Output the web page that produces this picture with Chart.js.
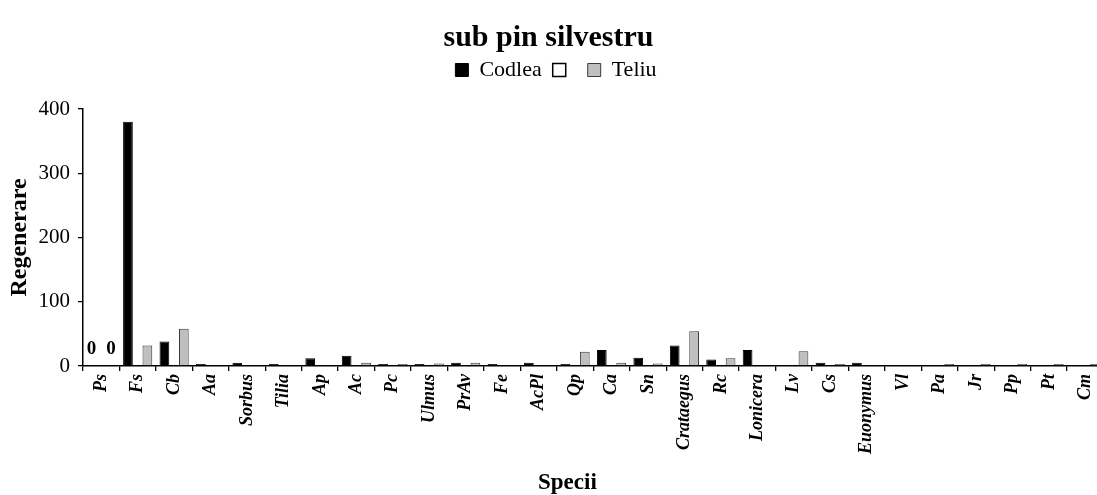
<!DOCTYPE html>
<html>
<head>
<meta charset="utf-8">
<script src="https://cdn.jsdelivr.net/npm/chart.js@4/dist/chart.umd.min.js"></script>
<style>
  html, body { margin: 0; padding: 0; background: #fff; overflow: hidden; }
  #wrap { width: 1097px; height: 495px; overflow: hidden; }
  #box { width: 1110px; height: 495px; }
</style>
</head>
<body>
<div id="wrap"><div id="box"><canvas id="c"></canvas></div></div>
<script>
// Species codes along the x axis
const species = ['Ps','Fs','Cb','Aa','Sorbus','Tilia','Ap','Ac','Pc','Ulmus','PrAv','Fe','AcPl','Qp','Ca','Sn','Crataegus','Rc','Lonicera','Lv','Cs','Euonymus','Vl','Pa','Jr','Pp','Pt','Cm'];

// Regeneration counts per site
const codlea = [0,380,38,3,5,3,12,16,3,3,5,3,5,3,25,13,32,10,25,0,5,5,0,0,0,0,0,0];
const unnamed = [null,null,null,null,null,null,null,null,null,null,null,null,null,null,null,null,null,null,null,null,null,null,null,null,null,null,null,null];
const teliu  = [0,32,58,0,0,0,0,5,3,4,5,0,0,22,5,4,54,12,0,23,3,0,0,3,3,3,3,3];

// Y axis ticks
const yTicks = [0,100,200,300,400];

// Categories whose values are written above the bars
const labelledSpecies = ['Ps'];

const serif = "'Liberation Serif', 'Times New Roman', serif";
const nbsp = n => '\u00A0'.repeat(n);

// Writes the value above the bars of the listed categories
const valueLabels = {
  id: 'valueLabels',
  afterDatasetsDraw(chart) {
    const ctx = chart.ctx;
    const yScale = chart.scales.y;
    ctx.save();
    ctx.font = 'bold 19px ' + serif;
    ctx.fillStyle = '#000';
    ctx.textAlign = 'center';
    ctx.textBaseline = 'alphabetic';
    [0, 2].forEach(di => {
      const meta = chart.getDatasetMeta(di);
      labelledSpecies.forEach(name => {
        const i = species.indexOf(name);
        const v = chart.data.datasets[di].data[i];
        const el = meta.data[i];
        if (el == null || v == null) return;
        ctx.fillText(String(v), el.x, yScale.getPixelForValue(v) - 12);
      });
    });
    ctx.restore();
  }
};

// Extra room between the legend row and the plot
const legendGap = {
  id: 'legendGap',
  beforeLayout(chart) {
    const lg = chart.legend;
    if (!lg || lg._gapPatched) return;
    const fit = lg.fit;
    lg.fit = function () { fit.call(this); this.height += 18; };
    lg._gapPatched = true;
  }
};

new Chart(document.getElementById('c'), {
  type: 'bar',
  data: {
    labels: species,
    datasets: [
      { label: 'Codlea', data: codlea, backgroundColor: '#000', borderColor: '#000', borderWidth: 1 },
      { label: '', data: unnamed, backgroundColor: '#fff', borderColor: '#000', borderWidth: 1.5 },
      { label: 'Teliu', data: teliu, backgroundColor: '#bfbfbf', borderColor: '#3a3a3a', borderWidth: 1 }
    ]
  },
  options: {
    responsive: true,
    maintainAspectRatio: false,
    animation: false,
    devicePixelRatio: 1,
    layout: { padding: { left: 5, right: 3, top: 0, bottom: 0 } },
    datasets: { bar: { categoryPercentage: 0.8, barPercentage: 1.0 } },
    plugins: {
      title: {
        display: true,
        text: 'sub pin silvestru' + nbsp(2),
        color: '#000',
        font: { family: serif, size: 30, weight: 'bold' },
        padding: { top: 20, bottom: -8 }
      },
      legend: {
        display: true,
        labels: {
          color: '#000',
          font: { family: serif, size: 22 },
          boxWidth: 13,
          boxHeight: 13,
          padding: 11
        }
      },
      tooltip: { enabled: false }
    },
    scales: {
      x: {
        afterFit(scale) { scale.height = 129; },
        grid: { display: true, offset: true, drawOnChartArea: false, tickLength: 5, color: '#000', lineWidth: 1.3 },
        border: { display: true, color: '#000', width: 1.5 },
        ticks: {
          color: '#000',
          minRotation: 90,
          maxRotation: 90,
          autoSkip: false,
          padding: 3,
          font: { family: serif, size: 18, weight: 'bold', style: 'italic' }
        },
        title: {
          display: true,
          text: 'Specii' + nbsp(9),
          color: '#000',
          font: { family: serif, size: 23, weight: 'bold' },
          padding: { top: 0, bottom: -2 }
        }
      },
      y: {
        min: 0,
        max: 400,
        afterBuildTicks(scale) { scale.ticks = yTicks.map(v => ({ value: v })); },
        afterFit(scale) { scale.width = 78; },
        grid: { display: true, drawOnChartArea: false, tickLength: 5, color: '#000', lineWidth: 1.3 },
        border: { display: true, color: '#000', width: 1.5 },
        ticks: {
          color: '#000',
          padding: 8,
          font: { family: serif, size: 21 }
        },
        title: {
          display: true,
          text: 'Regenerare',
          color: '#000',
          font: { family: serif, size: 24, weight: 'bold' },
          padding: { top: 0, bottom: 0 }
        }
      }
    }
  },
  plugins: [valueLabels, legendGap]
});
</script>
</body>
</html>
